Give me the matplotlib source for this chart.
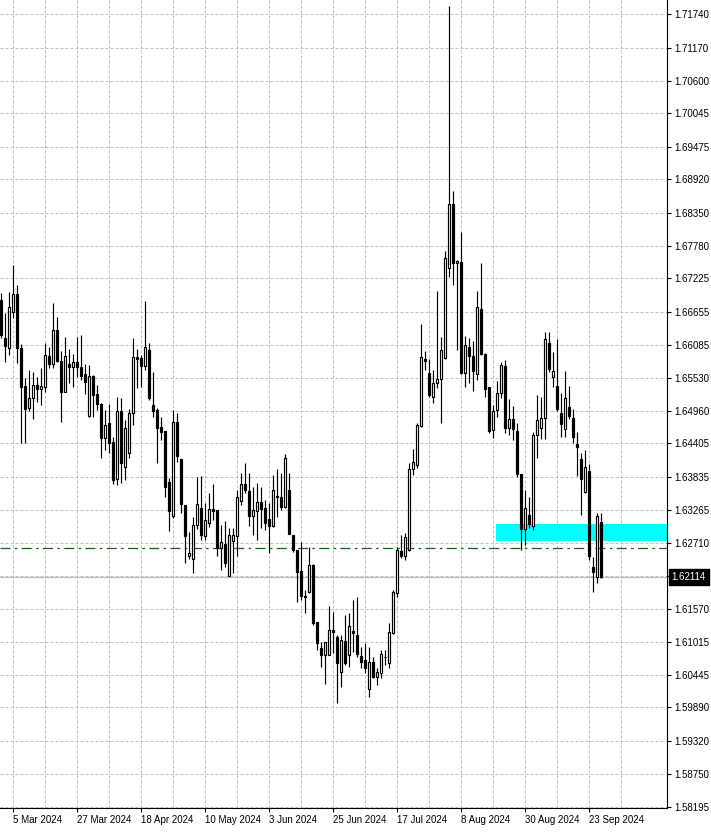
import numpy as np
import pandas as pd
import matplotlib
matplotlib.use("Agg")
from matplotlib import pyplot as plt
from matplotlib.transforms import blended_transform_factory, ScaledTranslation

plt.rcParams["font.family"] = ["Liberation Sans", "DejaVu Sans"]

# daily candles (29 Feb 2024 .. 26 Sep 2024)
opens = [
    1.66856, 1.66212, 1.66030, 1.66645, 1.66959, 1.66030, 1.65386, 1.65016, 1.65187, 1.65403,
    1.65329, 1.65363, 1.65899, 1.65757, 1.66343, 1.65813, 1.65289, 1.65762, 1.65705, 1.65791,
    1.65705, 1.65591, 1.64879, 1.65557, 1.65244, 1.65078, 1.64492, 1.64748, 1.64423, 1.63791,
    1.64959, 1.64007, 1.64235, 1.64919, 1.65876, 1.65870, 1.65734, 1.66002, 1.65061, 1.64976,
    1.64691, 1.64617, 1.63739, 1.63170, 1.64765, 1.64133, 1.63352, 1.62486, 1.62423, 1.63004,
    1.63295, 1.62828, 1.63039, 1.63278, 1.63266, 1.62611, 1.62680, 1.62144, 1.62742, 1.62828,
    1.63426, 1.63711, 1.63591, 1.63170, 1.63255, 1.63409, 1.63295, 1.63113, 1.62999, 1.63489,
    1.63483, 1.63323, 1.63608, 1.62839, 1.62583, 1.62224, 1.61802, 1.61859, 1.62326, 1.61346,
    1.60913, 1.60788, 1.60788, 1.61215, 1.61101, 1.60503, 1.61027, 1.60788, 1.61198, 1.61130,
    1.60776, 1.60702, 1.60201, 1.60663, 1.60406, 1.60486, 1.60748, 1.60645, 1.61158, 1.61842,
    1.62566, 1.62480, 1.62583, 1.63962, 1.64036, 1.64708, 1.65848, 1.65614, 1.65192, 1.65432,
    1.65500, 1.65859, 1.67409, 1.68497, 1.67483, 1.67500, 1.65614, 1.66059, 1.65899, 1.65586,
    1.66702, 1.65933, 1.65363, 1.64634, 1.64976, 1.65261, 1.65728, 1.64662, 1.64822, 1.64617,
    1.63876, 1.62936, 1.63181, 1.62993, 1.64549, 1.64662, 1.64833, 1.66127, 1.65534, 1.65386,
    1.64919, 1.64645, 1.65021, 1.64833, 1.64395, 1.64138, 1.63580, 1.63933, 1.62286, 1.62127,
    1.63067,
]
highs = [
    1.66970, 1.66628, 1.66999, 1.67455, 1.67113, 1.66098, 1.65517, 1.65660, 1.65631, 1.65546,
    1.65688, 1.66115, 1.66058, 1.66799, 1.66571, 1.65984, 1.66229, 1.66013, 1.65933, 1.66229,
    1.66258, 1.65757, 1.65745, 1.65574, 1.65403, 1.65090, 1.64976, 1.65073, 1.64520, 1.65192,
    1.65175, 1.64805, 1.64993, 1.66201, 1.66013, 1.65916, 1.66839, 1.66115, 1.65631, 1.65004,
    1.64862, 1.64617, 1.63808, 1.64976, 1.64919, 1.64133, 1.63352, 1.62896, 1.63152, 1.63836,
    1.63853, 1.63380, 1.63563, 1.63711, 1.63266, 1.63010, 1.63078, 1.62953, 1.62953, 1.63608,
    1.63893, 1.64064, 1.63893, 1.63665, 1.63722, 1.63665, 1.63437, 1.63380, 1.63865, 1.63962,
    1.63893, 1.64218, 1.63893, 1.62839, 1.62583, 1.62725, 1.61899, 1.62640, 1.62350, 1.61358,
    1.61016, 1.61016, 1.61625, 1.61529, 1.61130, 1.61130, 1.61472, 1.61500, 1.61728, 1.61785,
    1.60930, 1.60987, 1.60930, 1.60759, 1.60560, 1.60873, 1.60873, 1.61329, 1.61899, 1.62640,
    1.62839, 1.62868, 1.64064, 1.64304, 1.64748, 1.66446, 1.65984, 1.65842, 1.65660, 1.67010,
    1.66229, 1.67694, 1.71880, 1.68719, 1.67540, 1.68024, 1.66241, 1.66201, 1.66155, 1.67010,
    1.67494, 1.65944, 1.65375, 1.65061, 1.65477, 1.65791, 1.65831, 1.65164, 1.65044, 1.64748,
    1.63876, 1.63608, 1.63494, 1.64606, 1.65232, 1.65204, 1.66303, 1.66303, 1.65973, 1.66184,
    1.65272, 1.65648, 1.65386, 1.64987, 1.64606, 1.64235, 1.64292, 1.64047, 1.62468, 1.63221,
    1.63210,
]
lows = [
    1.66201, 1.65802, 1.65916, 1.66543, 1.65774, 1.64406, 1.64406, 1.64959, 1.64816, 1.65118,
    1.65061, 1.65289, 1.65700, 1.65688, 1.65802, 1.64776, 1.65278, 1.65432, 1.65375, 1.65546,
    1.65489, 1.65244, 1.64862, 1.64862, 1.64976, 1.64150, 1.64292, 1.64235, 1.63705, 1.63694,
    1.63722, 1.63779, 1.64150, 1.64719, 1.65358, 1.65375, 1.65660, 1.65147, 1.64862, 1.64076,
    1.64463, 1.63494, 1.62913, 1.63124, 1.64093, 1.63209, 1.62355, 1.62423, 1.62184, 1.62936,
    1.62754, 1.62754, 1.62982, 1.63096, 1.62486, 1.62241, 1.62298, 1.62130, 1.62184, 1.62480,
    1.63352, 1.63551, 1.62993, 1.62839, 1.62754, 1.62953, 1.62925, 1.62537, 1.62982, 1.63153,
    1.63266, 1.63295, 1.62850, 1.62554, 1.61700, 1.61728, 1.61500, 1.61842, 1.61301, 1.60873,
    1.60588, 1.60286, 1.60788, 1.60816, 1.59973, 1.60247, 1.60617, 1.60588, 1.60833, 1.60759,
    1.60560, 1.60474, 1.60076, 1.60389, 1.60275, 1.60389, 1.60617, 1.60560, 1.61141, 1.61785,
    1.62440, 1.62412, 1.62566, 1.63865, 1.63990, 1.64691, 1.65660, 1.65204, 1.65090, 1.65346,
    1.64759, 1.65848, 1.67255, 1.67113, 1.66002, 1.65586, 1.65363, 1.65432, 1.65306, 1.65489,
    1.65916, 1.65192, 1.64577, 1.64492, 1.64850, 1.65175, 1.64577, 1.64549, 1.64463, 1.63836,
    1.62583, 1.62668, 1.62953, 1.62925, 1.64150, 1.64474, 1.64474, 1.65631, 1.65375, 1.64964,
    1.64520, 1.64520, 1.64816, 1.64406, 1.63853, 1.63181, 1.63551, 1.62412, 1.61870, 1.62013,
    1.62100,
]
closes = [
    1.66258, 1.66076, 1.66731, 1.66959, 1.66030, 1.65375, 1.64987, 1.65175, 1.65403, 1.65329,
    1.65386, 1.65916, 1.65757, 1.66343, 1.65813, 1.65289, 1.65899, 1.65705, 1.65791, 1.65705,
    1.65563, 1.65460, 1.65557, 1.65232, 1.65073, 1.64492, 1.64719, 1.64417, 1.63779, 1.64959,
    1.64064, 1.64662, 1.64919, 1.65876, 1.65848, 1.65734, 1.66047, 1.65187, 1.64964, 1.64674,
    1.64605, 1.63665, 1.63255, 1.64765, 1.64195, 1.63363, 1.62828, 1.62526, 1.63004, 1.63363,
    1.62839, 1.63096, 1.63278, 1.63249, 1.62611, 1.62714, 1.62366, 1.62839, 1.62839, 1.63483,
    1.63711, 1.63608, 1.63170, 1.63266, 1.63409, 1.63284, 1.63050, 1.62999, 1.63608, 1.63500,
    1.63323, 1.64150, 1.62856, 1.62583, 1.62212, 1.61802, 1.61785, 1.62326, 1.61329, 1.60987,
    1.60788, 1.61004, 1.61215, 1.61187, 1.60657, 1.61044, 1.60645, 1.61284, 1.61158, 1.60805,
    1.60674, 1.60560, 1.60663, 1.60418, 1.60503, 1.60805, 1.60759, 1.61175, 1.61859, 1.62583,
    1.62480, 1.62799, 1.63962, 1.64081, 1.64714, 1.65876, 1.65819, 1.65232, 1.65432, 1.65500,
    1.66002, 1.67568, 1.68497, 1.67494, 1.67523, 1.65614, 1.66087, 1.65905, 1.65648, 1.66742,
    1.65927, 1.65329, 1.64623, 1.64959, 1.65261, 1.65745, 1.64662, 1.64822, 1.64645, 1.63876,
    1.62936, 1.63295, 1.63027, 1.64549, 1.64805, 1.64833, 1.66184, 1.65671, 1.65643, 1.64987,
    1.64731, 1.65175, 1.64879, 1.64509, 1.64349, 1.63796, 1.64007, 1.62486, 1.62201, 1.63164,
    1.62114,
]

price_ticks = [1.71740, 1.71170, 1.70600, 1.70045, 1.69475, 1.68920, 1.68350, 1.67780,
               1.67225, 1.66655, 1.66085, 1.65530, 1.64960, 1.64405, 1.63835, 1.63265,
               1.62710, 1.62140, 1.61570, 1.61015, 1.60445, 1.59890, 1.59320, 1.58750,
               1.58195]
hidden_tick = 1.62140          # covered by the last-price tag

last_price = 1.62114
level = 1.62612                # green dash-dot line
zone_low, zone_high = 1.62742, 1.63027
zone_start = "2024-08-21"

dates = pd.bdate_range("2024-02-29", periods=len(opens))

o = np.array(opens)
h = np.array(highs)
l = np.array(lows)
c = np.array(closes)
x = np.arange(len(o))
up = c >= o

fig = plt.figure(figsize=(7.11, 8.32), dpi=100)
ax = fig.add_axes([0, 24 / 832, 667 / 711, 808 / 832])

# zone and lines
zx = dates.get_loc(pd.Timestamp(zone_start)) - 0.25
ax.fill_between([zx, 170], zone_low, zone_high, color="#00ffff", lw=0, zorder=1)
ax.axhline(level, color="#0b6b0b", lw=0.9, ls=(0, (8, 3.5, 2, 3.5)), zorder=2)
ax.axhline(last_price, color="#c0c0c0", lw=0.9, zorder=2)

# candles
ax.vlines(x, l, h, color="black", lw=0.85, zorder=3)
ax.bar(x[up], (c - o)[up], bottom=o[up], width=0.5, color="white",
       edgecolor="black", lw=0.85, zorder=4)
ax.bar(x[~up], (o - c)[~up], bottom=c[~up], width=0.5, color="black",
       edgecolor="black", lw=0.85, zorder=4)

ax.set_xlim(-0.17, 166.58)
ax.set_ylim(1.58172, 1.71984)

# axes / ticks
major = x[3::16]
ax.set_xticks(major)
ax.set_xticklabels([d.strftime("%-d %b %Y") for d in dates[major]], ha="left", fontsize=7)
shift = ScaledTranslation(-2 / 100, 0, fig.dpi_scale_trans)
for lbl in ax.get_xticklabels():
    lbl.set_transform(lbl.get_transform() + shift)
ax.set_xticks(np.arange(11, 166, 16), minor=True)
ax.tick_params(axis="x", which="major", length=3, width=0.8, pad=2, direction="out")
ax.tick_params(axis="x", which="minor", length=0)

ax.yaxis.tick_right()
ax.set_yticks(price_ticks)
ax.set_yticklabels(["" if t == hidden_tick else "%.5f" % t for t in price_ticks], fontsize=7)
ax.tick_params(axis="y", length=3, width=0.8, pad=2)

ax.grid(True, which="both", color="#c0c0c0", ls=(0, (3, 2)), lw=0.72)
ax.set_axisbelow(True)

for s in ["top", "left"]:
    ax.spines[s].set_visible(False)
for s in ["right", "bottom"]:
    ax.spines[s].set_linewidth(0.8)
    ax.spines[s].set_color("black")

tr = blended_transform_factory(ax.transAxes, ax.transData)
ax.annotate("%.5f" % last_price, xy=(1, last_price), xycoords=tr, xytext=(3.4, 0),
            textcoords="offset points", ha="left", va="center", fontsize=7,
            color="white", annotation_clip=False,
            bbox=dict(boxstyle="square,pad=0.3", fc="black", ec="black"))

plt.savefig("out.png", dpi=100)
